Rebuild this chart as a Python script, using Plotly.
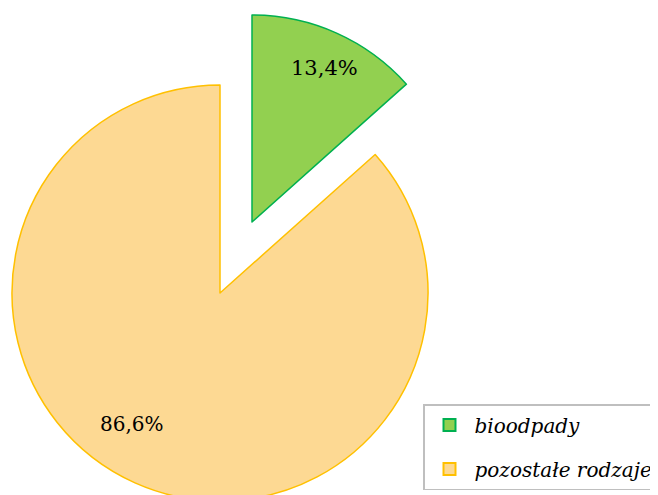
import plotly.graph_objects as go

labels = ["bioodpady", "pozostałe rodzaje"]
values = [13.4, 86.6]
fill_colors = ["#92D050", "#FDD993"]
line_colors = ["#00B050", "#FFC000"]

NONE = "rgba(0,0,0,0)"
W, H = 658, 495
OFF = 8  # domyślny margines strony w przeglądarce


def px_x(x):
    return (x - OFF) / W


def px_y(y):
    return 1 - (y - OFF) / H


def pct(v):
    return f"{v:.1f}%".replace(".", ",")


fig = go.Figure()

# pozostałe rodzaje - duży wycinek (wycinek bioodpadów niewidoczny)
fig.add_trace(go.Pie(
    labels=labels, values=values, sort=False, direction="clockwise", rotation=0,
    marker=dict(colors=[NONE, fill_colors[1]],
                line=dict(color=[NONE, line_colors[1]], width=[0, 1.5])),
    textinfo="none", hoverinfo="label+percent", showlegend=False,
    domain=dict(x=[px_x(12), px_x(428)], y=[px_y(501), px_y(85)]),
))

# bioodpady - wysunięty wycinek
fig.add_trace(go.Pie(
    labels=labels, values=values, sort=False, direction="clockwise", rotation=0,
    marker=dict(colors=[fill_colors[0], NONE],
                line=dict(color=[line_colors[0], NONE], width=[1.5, 0])),
    textinfo="none", hoverinfo="label+percent", showlegend=False,
    domain=dict(x=[px_x(45), px_x(459)], y=[px_y(429), px_y(15)]),
))

# legenda
for i, name in enumerate(labels):
    fig.add_trace(go.Scatter(
        x=[None], y=[None], mode="markers", name=name, legendgroup=name,
        marker=dict(symbol="square", size=12, color=fill_colors[i],
                    line=dict(color=line_colors[i], width=2)),
    ))

for v, (x, y), size in zip(values, [(324, 68), (132, 424)], [21, 20]):
    fig.add_annotation(x=px_x(x), y=px_y(y), xref="paper", yref="paper",
                       xanchor="center", yanchor="middle",
                       text=pct(v), showarrow=False,
                       font=dict(family="DejaVu Serif", size=size, color="#000000"))

fig.update_layout(
    width=W, height=H, template="none",
    margin=dict(l=0, r=0, t=0, b=0),
    paper_bgcolor="white", plot_bgcolor="rgba(0,0,0,0)",
    xaxis=dict(visible=False), yaxis=dict(visible=False),
    legend=dict(x=px_x(423), y=px_y(404), xanchor="left", yanchor="top",
                bgcolor="white", bordercolor="#BFBFBF", borderwidth=1.5,
                traceorder="grouped", tracegroupgap=15, itemwidth=40,
                font=dict(family="DejaVu Serif", size=20, color="#000000", style="italic")),
)

fig.write_html("out.html")
